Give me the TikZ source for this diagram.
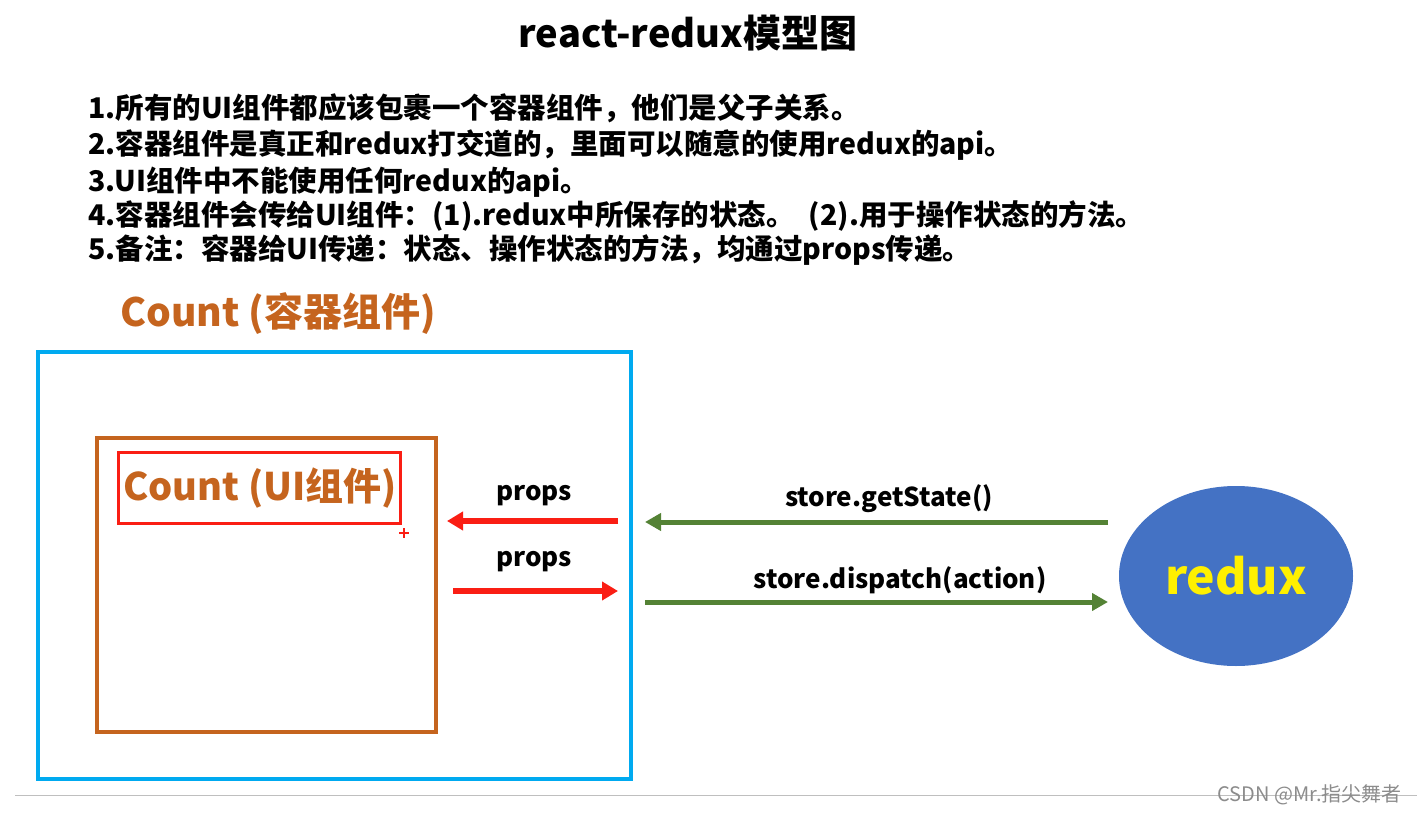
\documentclass[tikz,border=0pt]{standalone}
\usepackage{fontspec}
\setmainfont{Noto Sans CJK SC}
\usetikzlibrary{arrows.meta,shapes.geometric}
\definecolor{boxblue}{RGB}{0,170,240}
\definecolor{corange}{RGB}{197,100,30}
\definecolor{cred}{RGB}{250,30,20}
\definecolor{cgreen}{RGB}{84,130,53}
\definecolor{rblue}{RGB}{68,114,196}
\definecolor{ryellow}{RGB}{255,240,0}
\begin{document}
\begin{tikzpicture}[x=1pt,y=-1pt,
  txt/.style={inner sep=0pt,anchor=west,font=\fontsize{28.5}{32}\selectfont\bfseries},
  lbl/.style={inner sep=0pt,font=\fontsize{26}{30}\selectfont\bfseries},
  redarrow/.style={cred,line width=5.5pt,-{Triangle[length=16pt,width=18pt]}},
  greenarrow/.style={cgreen,line width=5pt,-{Triangle[length=16pt,width=17pt]}}]
\useasboundingbox (0,0) rectangle (1417,813);
\fill[white] (0,0) rectangle (1417,813);
\node[inner sep=0pt,font=\fontsize{38}{42}\selectfont\bfseries] (title) at (688,33) {react-redux模型图};
\node[txt] (l1) at (88,108) {1.所有的UI组件都应该包裹一个容器组件，他们是父子关系。};
\node[txt] (l2) at (88,145) {2.容器组件是真正和redux打交道的，里面可以随意的使用redux的api。};
\node[txt] (l3) at (88,182) {3.UI组件中不能使用任何redux的api。};
\node[txt] (l4) at (88,216) {4.容器组件会传给UI组件：(1).redux中所保存的状态。\enspace(2).用于操作状态的方法。};
\node[txt] (l5) at (88,250) {5.备注：容器给UI传递：状态、操作状态的方法，均通过props传递。};
\node[inner sep=0pt,anchor=west,text=corange,font=\fontsize{39}{43}\selectfont\bfseries] (ctitle) at (120,314) {Count (容器组件)};
\node[draw=boxblue,line width=4pt,minimum width=593pt,minimum height=427pt,inner sep=0pt] (outer) at (334.5,565.5) {};
\node[draw=corange,line width=4pt,minimum width=339pt,minimum height=294pt,inner sep=0pt] (ui) at (266.5,585) {};
\node[draw=cred,line width=3pt,minimum width=282pt,minimum height=71pt,inner sep=0pt] (uibox) at (259,487.5) {};
\node[inner sep=0pt,text=corange,font=\fontsize{38}{42}\selectfont\bfseries] (uititle) at (260,488) {Count (UI组件)};
\draw[cred,line width=1.2pt] (399,533) -- (409,533) (404,528) -- (404,538);
\coordinate (p1s) at (618,521);
\coordinate (p1e) at (447,521);
\coordinate (p2s) at (453,591);
\coordinate (p2e) at (618,591);
\draw[redarrow] (p1s) -- (p1e);
\draw[redarrow] (p2s) -- (p2e);
\node[lbl] (props1) at (534,496) {props};
\node[lbl] (props2) at (534,562) {props};
\node[ellipse,fill=rblue,minimum width=234pt,minimum height=180pt,inner sep=0pt,text=ryellow,font=\fontsize{48}{52}\selectfont\bfseries] (redux) at (1236,576) {redux};
\coordinate (g1s) at (1108,522);
\coordinate (g1e) at (645,522);
\coordinate (g2s) at (645,602);
\coordinate (g2e) at (1108,602);
\draw[greenarrow] (g1s) -- (g1e);
\draw[greenarrow] (g2s) -- (g2e);
\node[lbl] (gs) at (889,499) {store.getState()};
\node[lbl] (gd) at (900,580) {store.dispatch(action)};
\coordinate (hl) at (15,795);
\coordinate (hr) at (1417,795);
\draw[gray!50,line width=1pt] (hl) -- (hr);
\node[inner sep=0pt,anchor=east,text=gray!90,font=\fontsize{20}{22}\selectfont] (wm) at (1402,795) {CSDN @Mr.指尖舞者};
\end{tikzpicture}
\end{document}
